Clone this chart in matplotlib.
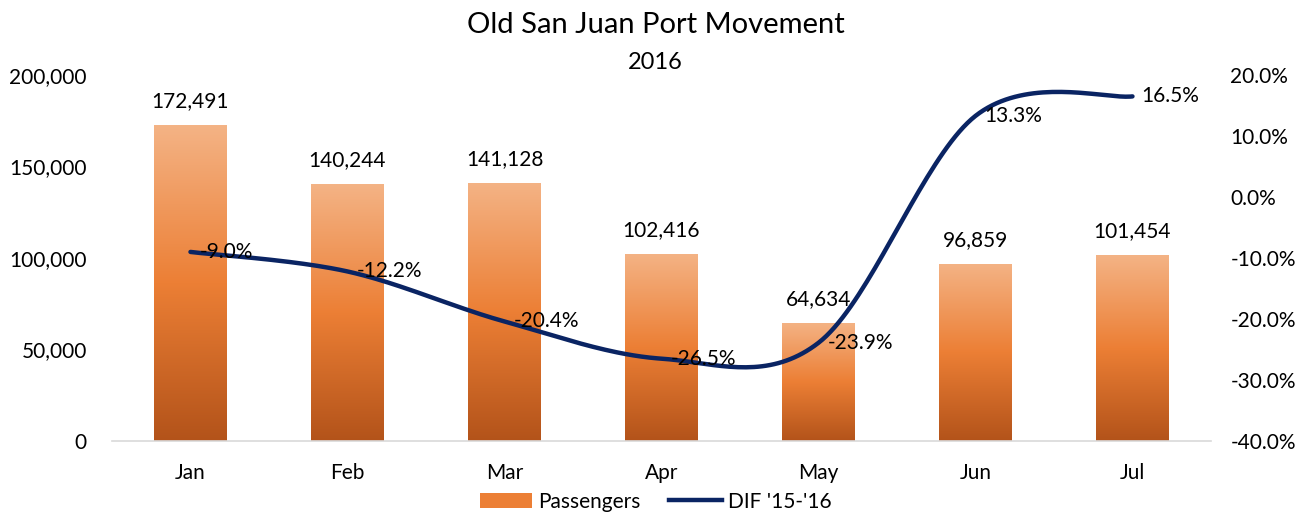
import matplotlib
matplotlib.use("Agg")
import matplotlib.pyplot as plt
import numpy as np
from matplotlib.colors import LinearSegmentedColormap
from matplotlib.patches import Patch
from matplotlib.lines import Line2D
from matplotlib.ticker import FuncFormatter

MONTHS = ["Jan", "Feb", "Mar", "Apr", "May", "Jun", "Jul"]
PASSENGERS = [172491, 140244, 141128, 102416, 64634, 96859, 101454]
DIF = [-9.0, -12.2, -20.4, -26.5, -23.9, 13.3, 16.5]

plt.rcParams["font.family"] = ["Lato", "DejaVu Sans"]

BAR_CMAP = LinearSegmentedColormap.from_list(
    "bar", [(0.0, "#B3531A"), (0.5, "#EC7F35"), (1.0, "#F4B385")]
)
LINE_COLOR = "#0A2463"


def catmull_rom(xs, ys, n=40):
    # smooth curve like Excel's "smoothed line"
    px = np.concatenate([[xs[0]], xs, [xs[-1]]])
    py = np.concatenate([[ys[0]], ys, [ys[-1]]])
    out_x, out_y = [], []
    t = np.linspace(0, 1, n)
    for i in range(1, len(px) - 2):
        p0 = np.array([px[i], py[i]])
        p3 = np.array([px[i + 1], py[i + 1]])
        c1 = p0 + (np.array([px[i + 1], py[i + 1]]) - np.array([px[i - 1], py[i - 1]])) / 6
        c2 = p3 - (np.array([px[i + 2], py[i + 2]]) - p0) / 6
        b = ((1 - t) ** 3)[:, None] * p0 + (3 * (1 - t) ** 2 * t)[:, None] * c1 \
            + (3 * (1 - t) * t ** 2)[:, None] * c2 + (t ** 3)[:, None] * p3
        out_x.extend(b[:, 0])
        out_y.extend(b[:, 1])
    return np.array(out_x), np.array(out_y)


fig = plt.figure(figsize=(13.11, 5.14), dpi=100)
ax = fig.add_axes([0.0854, 0.142, 0.8383, 0.712])
ax2 = ax.twinx()

x = np.arange(len(MONTHS))
width = 0.46
bars = ax.bar(x, PASSENGERS, width=width, color="none", zorder=2)
grad = np.linspace(0, 1, 256).reshape(-1, 1)
for rect in bars:
    bx, bw, bh = rect.get_x(), rect.get_width(), rect.get_height()
    im = ax.imshow(grad, cmap=BAR_CMAP, origin="lower", aspect="auto",
                   extent=[bx, bx + bw, 0, bh], zorder=2)
    im.set_clip_path(rect)

for xi, v in zip(x, PASSENGERS):
    ax.annotate(f"{v:,}", (xi, v), xytext=(0, 14), textcoords="offset pixels",
                ha="center", va="bottom", fontsize=15)

ax.set_xlim(-0.5, len(MONTHS) - 0.5)
ax.set_ylim(0, 200000)
ax.set_yticks(np.arange(0, 200001, 50000))
ax.yaxis.set_major_formatter(FuncFormatter(lambda v, p: f"{int(v):,}"))
ax.set_xticks(x)
ax.set_xticklabels(MONTHS)
ax.tick_params(axis="both", length=0, labelsize=15)
ax.tick_params(axis="x", pad=16)
ax.tick_params(axis="y", pad=18)
for s in ["top", "left", "right"]:
    ax.spines[s].set_visible(False)
ax.spines["bottom"].set_color("#D9D9D9")
ax.spines["bottom"].set_linewidth(1.2)

sx, sy = catmull_rom(x.astype(float), np.array(DIF, dtype=float))
ax2.plot(sx, sy, color=LINE_COLOR, linewidth=3.2, solid_capstyle="round", zorder=3)
for xi, v in zip(x, DIF):
    ax2.annotate(f"{v:.1f}%", (xi, v), xytext=(9, 0), textcoords="offset pixels",
                 ha="left", va="center", fontsize=15, annotation_clip=False)
ax2.set_ylim(-40, 20)
ax2.set_yticks(np.arange(-40, 21, 10))
ax2.yaxis.set_major_formatter(FuncFormatter(lambda v, p: f"{v:.1f}%"))
ax2.tick_params(axis="y", length=0, labelsize=15, pad=14)
for s in ["top", "left", "right", "bottom"]:
    ax2.spines[s].set_visible(False)

fig.text(0.5, 0.951, "Old San Juan Port Movement", ha="center", va="center", fontsize=21)
fig.text(0.5, 0.879, "2016", ha="center", va="center", fontsize=17)

handles = [Patch(facecolor="#EC7F35"), Line2D([0], [0], color=LINE_COLOR, linewidth=3.2)]
fig.legend(handles, ["Passengers", "DIF '15-'16"], loc="center", ncol=2,
           bbox_to_anchor=(0.5, 0.024), frameon=False, fontsize=15,
           handlelength=2.5, columnspacing=1.4, handletextpad=0.3,
           borderpad=0.0)

fig.savefig("out.png", dpi=100)
